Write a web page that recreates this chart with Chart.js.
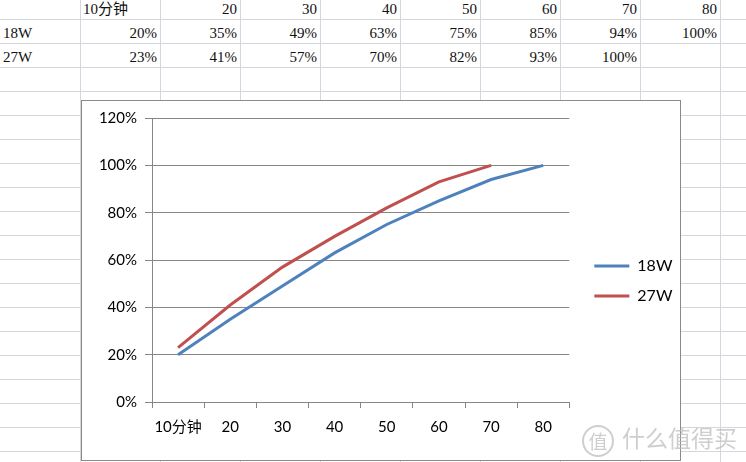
<!DOCTYPE html>
<html>
<head>
<meta charset="utf-8">
<script src="https://cdn.jsdelivr.net/npm/chart.js@4"></script>
<style>
  html, body { margin: 0; padding: 0; }
  body {
    width: 746px; height: 462px; overflow: hidden; position: relative; background: #fff;
    background-image:
      repeating-linear-gradient(to right, transparent 0, transparent 79px, #d3d7df 79px, #d3d7df 80px),
      repeating-linear-gradient(to bottom, transparent 0, transparent 19px, #d3d7df 19px, #d3d7df 20px, transparent 20px, transparent 24px);
    background-position: 1px 0, 0 0;
  }
  .cell { position: absolute; font: 15px "Liberation Serif", "Noto Sans CJK SC", serif; color: #111; line-height: 20px; white-space: nowrap; }
  #box { position: absolute; left: 81px; top: 100px; width: 598px; height: 359px; background: #fff; border: 1px solid #8a8a8a; }
  #mark { position: absolute; left: 582px; top: 420px; font: 23px "Noto Sans CJK SC", sans-serif; color: rgba(190,190,190,0.75); white-space: nowrap; }
  #mark span { display: inline-block; width: 28px; height: 28px; border: 2px solid rgba(190,190,190,0.75); border-radius: 50%; text-align: center; line-height: 28px; font-size: 19px; margin-right: 8px; vertical-align: middle; }
</style>
</head>
<body>
<div id="sheet"></div>
<div id="box"><canvas id="lineChart" width="598" height="359"></canvas></div>
<div id="mark"><span>值</span>什么值得买</div>
<script>
const categories = ["10分钟", "20", "30", "40", "50", "60", "70", "80"];
const seriesNames = ["18W", "27W"];
const values18W = [20, 35, 49, 63, 75, 85, 94, 100];
const values27W = [23, 41, 57, 70, 82, 93, 100, null];
const yTicks = [0, 20, 40, 60, 80, 100, 120];
const colors = ["#4f81bd", "#c0504d"];

// spreadsheet cells above the chart
const sheet = document.getElementById("sheet");
function cell(text, col, row, alignLeft) {
    const d = document.createElement("div");
    d.className = "cell";
    d.textContent = text;
    const left = col * 80;
    d.style.top = (row * 24 - 1) + "px";
    if (alignLeft) d.style.left = (left + 3) + "px";
    else d.style.right = (746 - left - 77) + "px";
    sheet.appendChild(d);
}
categories.forEach((c, i) => cell(c, i + 1, 0, i === 0));
[values18W, values27W].forEach((vals, r) => {
    cell(seriesNames[r], 0, r + 1, true);
    vals.forEach((v, i) => { if (v !== null) cell(v + "%", i + 1, r + 1, false); });
});

const font = { family: "Lato, 'Noto Sans CJK SC', sans-serif", size: 15 };

// invisible spacer axis
const spacer = (position, fit) => ({
    type: "linear",
    position: position,
    afterFit: fit,
    grid: { drawOnChartArea: false, drawTicks: false },
    border: { display: false },
    ticks: { display: false },
});

new Chart(document.getElementById("lineChart"), {
    type: "line",
    data: {
        labels: categories,
        datasets: [
            { label: seriesNames[0], data: values18W, borderColor: colors[0], backgroundColor: colors[0] },
            { label: seriesNames[1], data: values27W, borderColor: colors[1], backgroundColor: colors[1] },
        ]
    },
    options: {
        responsive: false,
        animation: false,
        layout: { padding: { left: 0, top: 1, right: 0, bottom: 0 } },
        elements: {
            line: { borderWidth: 3, tension: 0 },
            point: { radius: 0 },
        },
        plugins: {
            tooltip: { enabled: false },
            legend: {
                position: "right",
                labels: {
                    color: "#000",
                    font: { family: font.family, size: 16 },
                    boxWidth: 35,
                    boxHeight: 3,
                    padding: 14,
                    generateLabels: chart => chart.data.datasets.map((ds, i) => ({
                        text: ds.label, fillStyle: ds.borderColor, strokeStyle: ds.borderColor,
                        lineWidth: 0, datasetIndex: i, fontColor: "#000",
                    })),
                },
            },
        },
        scales: {
            x: {
                offset: true,
                afterFit: s => { s.height = 58; },
                grid: { offset: true, drawOnChartArea: false, color: "#868686", tickLength: 6 },
                border: { color: "#868686" },
                ticks: { color: "#000", font: font, padding: 10, maxRotation: 0, autoSkip: false },
            },
            y: {
                min: 0,
                max: 120,
                afterFit: s => { s.width = 70; },
                afterBuildTicks: s => { s.ticks = yTicks.map(v => ({ value: v })); },
                grid: { color: "#868686", tickLength: 7 },
                border: { color: "#868686" },
                ticks: {
                    color: "#000", font: font, padding: 8,
                    callback: v => v + "%",
                },
            },
            gapRight: spacer("right", s => { s.width = 11; }),
            gapTop: spacer("top", s => { s.height = 14; }),
        },
    },
});
</script>
</body>
</html>
